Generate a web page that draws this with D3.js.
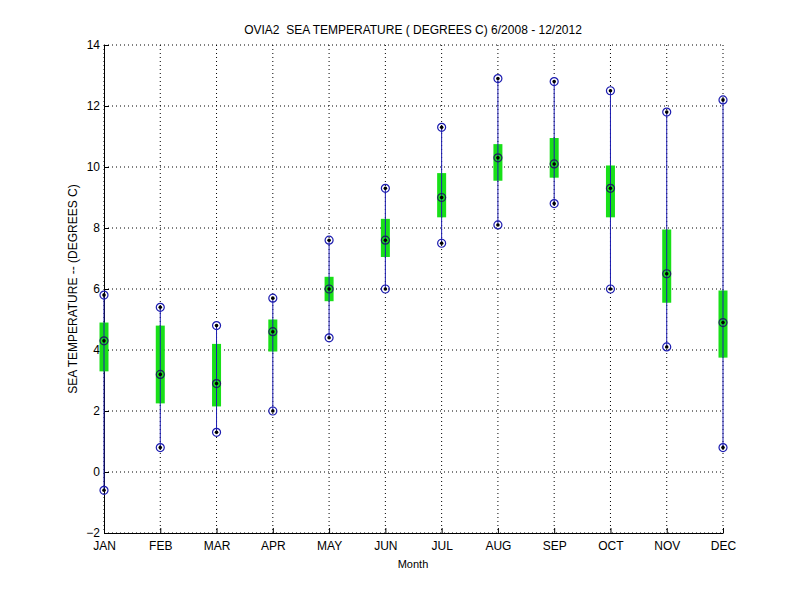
<!DOCTYPE html>
<html>
<head>
<meta charset="utf-8">
<script src="https://cdn.jsdelivr.net/npm/d3@7"></script>
<style>
  body { margin: 0; background: #fff; }
  text { font-family: "Liberation Sans", Arial, sans-serif; }
</style>
</head>
<body>
<div id="chart"></div>
<script>
// Monthly sea temperature stats
const months = ["JAN", "FEB", "MAR", "APR", "MAY", "JUN", "JUL", "AUG", "SEP", "OCT", "NOV", "DEC"];
const maxVals  = [5.8, 5.4, 4.8, 5.7, 7.6, 9.3, 11.3, 12.9, 12.8, 12.5, 11.8, 12.2];
const minVals  = [-0.6, 0.8, 1.3, 2.0, 4.4, 6.0, 7.5, 8.1, 8.8, 6.0, 4.1, 0.8];
const meanVals = [4.3, 3.2, 2.9, 4.6, 6.0, 7.6, 9.0, 10.3, 10.1, 9.3, 6.5, 4.9];
const boxLow   = [3.3, 2.25, 2.15, 3.95, 5.6, 7.05, 8.35, 9.55, 9.65, 8.35, 5.55, 3.75];
const boxHigh  = [4.9, 4.8, 4.2, 5.0, 6.4, 8.3, 9.8, 10.75, 10.95, 10.05, 7.95, 5.95];
const yTicks = [-2, 0, 2, 4, 6, 8, 10, 12, 14];

const width = 800, height = 600;
const margin = { left: 104, right: 77, top: 45, bottom: 67 };

const svg = d3.select("#chart")
    .append("svg")
    .attr("width", width)
    .attr("height", height);

const x = d3.scalePoint()
    .domain(months)
    .range([margin.left, width - margin.right]);

const y = d3.scaleLinear()
    .domain([-2, 14])
    .range([height - margin.bottom, margin.top]);

// dotted grid
svg.append("g")
    .selectAll("line")
    .data(yTicks)
    .enter().append("line")
    .attr("x1", margin.left).attr("x2", width - margin.right)
    .attr("y1", d => y(d)).attr("y2", d => y(d))
    .attr("stroke", "#000").attr("stroke-width", 1)
    .attr("stroke-dasharray", "1,3");

svg.append("g")
    .selectAll("line")
    .data(months)
    .enter().append("line")
    .attr("x1", d => x(d)).attr("x2", d => x(d))
    .attr("y1", margin.top).attr("y2", height - margin.bottom)
    .attr("stroke", "#000").attr("stroke-width", 1)
    .attr("stroke-dasharray", "1,3");

// axes
const xAxis = svg.append("g")
    .attr("transform", `translate(0,${height - margin.bottom})`)
    .call(d3.axisBottom(x).tickSizeInner(-5).tickSizeOuter(0).tickPadding(8));

const yAxis = svg.append("g")
    .attr("transform", `translate(${margin.left},0)`)
    .call(d3.axisLeft(y).tickValues(yTicks).tickSizeInner(-5).tickSizeOuter(0).tickPadding(4));

[xAxis, yAxis].forEach(a => {
    a.select(".domain").attr("stroke", "#000");
    a.selectAll("text").attr("font-size", 12).attr("fill", "#000")
        .attr("font-family", "'Liberation Sans', Arial, sans-serif");
});

// whiskers
const data = months.map((m, i) => ({
    m, max: maxVals[i], min: minVals[i], mean: meanVals[i], lo: boxLow[i], hi: boxHigh[i]
}));

svg.append("g")
    .selectAll("line")
    .data(data)
    .enter().append("line")
    .attr("x1", d => x(d.m)).attr("x2", d => x(d.m))
    .attr("y1", d => y(d.min)).attr("y2", d => y(d.max))
    .attr("stroke", "#1c1cb0").attr("stroke-width", 1);

// green boxes
svg.append("g")
    .selectAll("rect")
    .data(data)
    .enter().append("rect")
    .attr("x", d => x(d.m) - 4.5)
    .attr("width", 9)
    .attr("y", d => y(d.hi))
    .attr("height", d => y(d.lo) - y(d.hi))
    .attr("fill", "#18e018");

// line again on top of box
svg.append("g")
    .selectAll("line")
    .data(data)
    .enter().append("line")
    .attr("x1", d => x(d.m)).attr("x2", d => x(d.m))
    .attr("y1", d => y(d.lo)).attr("y2", d => y(d.hi))
    .attr("stroke", "#1c1cb0").attr("stroke-width", 1);

// markers
const pts = [];
data.forEach(d => {
    pts.push({ m: d.m, v: d.max, c: "#1c1cb0" });
    pts.push({ m: d.m, v: d.min, c: "#1c1cb0" });
    pts.push({ m: d.m, v: d.mean, c: "#202060" });
});

const mk = svg.append("g")
    .selectAll("g")
    .data(pts)
    .enter().append("g")
    .attr("transform", d => `translate(${x(d.m)},${y(d.v)})`);

mk.append("circle")
    .attr("r", 4)
    .attr("fill", "none")
    .attr("stroke", d => d.c)
    .attr("stroke-width", 1.2);

mk.append("circle")
    .attr("r", 1.8)
    .attr("fill", "#000");

// labels
svg.append("text")
    .attr("x", 413).attr("y", 34)
    .attr("text-anchor", "middle")
    .attr("font-size", 12)
    .style("white-space", "pre")
    .text("OVIA2  SEA TEMPERATURE ( DEGREES C) 6/2008 - 12/2012");

svg.append("text")
    .attr("transform", `translate(77,289) rotate(-90)`)
    .attr("text-anchor", "middle")
    .attr("font-size", 12)
    .text("SEA TEMPERATURE -- (DEGREES C)");

svg.append("text")
    .attr("x", 413).attr("y", 568)
    .attr("text-anchor", "middle")
    .attr("font-size", 11)
    .text("Month");
</script>
</body>
</html>
